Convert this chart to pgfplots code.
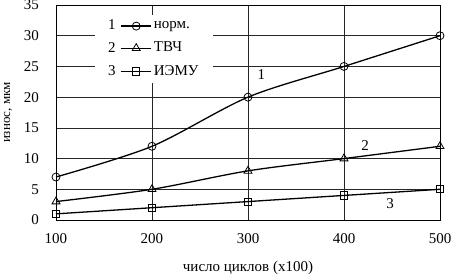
\documentclass[border=0pt]{standalone}
\usepackage{fontspec}
\setmainfont{Liberation Serif}
\usepackage{pgfplots}
\pgfplotsset{compat=1.18}

\begin{document}
\fontsize{15bp}{17bp}\selectfont
\begin{tikzpicture}
  \begin{axis}[
    scale only axis,
    width=384bp, height=215bp,
    xmin=100, xmax=500, ymin=0, ymax=35,
    xtick={100,200,...,500}, ytick={0,5,...,35},
    grid=major,
    major grid style={black!85, line width=0.7pt},
    axis line style={black, line width=0.7pt},
    tick style={draw=none},
    /pgf/number format/assume math mode=true,
    xticklabel style={yshift=-8bp},
    yticklabel style={xshift=-12bp},
    xlabel={число циклов (x100)},
    ylabel={износ, мкм},
    xlabel style={yshift=-8bp},
    ylabel style={yshift=1.5bp, font=\fontsize{13bp}{15bp}\selectfont},
    legend style={at={(axis cs:140.5,33.4)}, anchor=north west, draw=none, fill=white,
      inner xsep=12bp, inner ysep=4bp, row sep=7bp, font=\fontsize{15bp}{17bp}\selectfont},
    legend cell align=left,
    every axis plot/.append style={black, line width=1.3pt, smooth, mark options={solid, fill=white, line width=0.8pt}},
  ]
    \addplot[mark=o, mark size=4bp,
      legend image code/.code={\node[anchor=east, inner sep=1bp] at (0bp,0bp) {1};
        \draw[mark repeat=2, mark phase=2] plot coordinates {(4bp,0bp)(19bp,0bp)(34bp,0bp)};}]
      coordinates {(100,7) (200,12) (300,20) (400,25) (500,30)};
    \addlegendentry{норм.}
    \addplot[mark=triangle, mark size=4.6bp,
      legend image code/.code={\node[anchor=east, inner sep=1bp] at (0bp,0bp) {2};
        \draw[mark repeat=2, mark phase=2] plot coordinates {(4bp,0bp)(19bp,0bp)(34bp,0bp)};}]
      coordinates {(100,3) (200,5) (300,8) (400,10) (500,12)};
    \addlegendentry{ТВЧ}
    \addplot[mark=square, mark size=3.6bp,
      legend image code/.code={\node[anchor=east, inner sep=1bp] at (0bp,0bp) {3};
        \draw[mark repeat=2, mark phase=2] plot coordinates {(4bp,0bp)(19bp,0bp)(34bp,0bp)};}]
      coordinates {(100,1) (200,2) (300,3) (400,4) (500,5)};
    \addlegendentry{ИЭМУ}
    \node at (axis cs:314,23.6) {1};
    \node at (axis cs:422,12.2) {2};
    \node at (axis cs:448,2.6) {3};
  \end{axis}
  \pgfresetboundingbox
  \useasboundingbox (-56bp,-57bp) rectangle (396bp,220bp);
\end{tikzpicture}
\end{document}
